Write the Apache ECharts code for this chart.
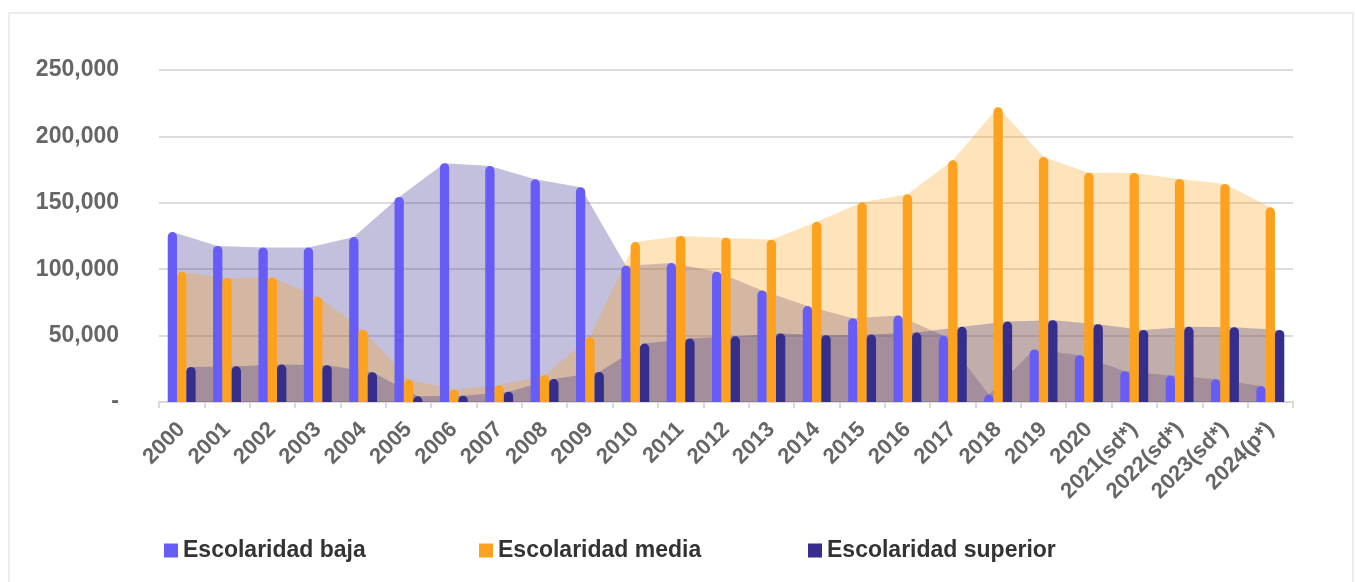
<!doctype html>
<html>
	<head>
		<meta charset="UTF-8">
		<title>Escolaridad</title>
		<style type="text/css">
			body {
				margin: 0;
				background: #ffffff;
			}
			/* 外框 */
			.frame {
				position: absolute;
				left: 8px;
				top: 12px;
				width: 1342px;
				height: 600px;
				border: 2px solid #ececec;
			}
			#main {
				position: absolute;
				left: 0;
				top: 0;
				width: 1355px;
				height: 582px;
			}
		</style>
	</head>
	<body>
		<div class="frame"></div>
		<div id="main"></div>
		<script src="https://cdn.jsdelivr.net/npm/echarts@6/dist/echarts.min.js"></script>
		<script type="text/javascript">
			// 数据
			var years = ['2000','2001','2002','2003','2004','2005','2006','2007','2008','2009','2010','2011','2012',
				'2013','2014','2015','2016','2017','2018','2019','2020','2021(sd*)','2022(sd*)','2023(sd*)','2024(p*)'];
			var baja = [128000,117500,116400,116400,124200,154400,179800,177700,167700,161700,102600,104600,98100,
				84000,72200,63100,65100,49800,5600,39500,35200,23200,19900,17100,12100];
			var media = [98000,93300,93800,79200,54300,16900,9400,12600,20100,49000,120400,125000,123700,
				122200,135700,150400,156400,182000,222000,184500,172700,172500,168000,164200,146600];
			var superior = [26400,26900,28200,27700,22400,4300,4800,7800,17300,22600,44000,47800,49500,
				51600,50300,50800,52300,56600,60600,61600,58600,54300,56600,56300,54300];
			var names = ['Escolaridad baja','Escolaridad media','Escolaridad superior'];
			var colors = ['#675df6','#fca21f','#352e8c'];
			var areaColors = ['rgba(53,45,140,0.3)','rgba(252,162,31,0.3)','rgba(53,45,140,0.3)'];

			var barW = 0.205; // 柱宽占类目宽度的比例
			var font = 'Liberation Sans, Arial, Helvetica, sans-serif';

			// 面积线的点放在各自柱子的中心
			function areaPoints(arr, k){
				var pts = [];
				for(var i=0;i<arr.length;i++){
					pts.push([i + (k-1)*barW, arr[i]]);
				}
				return pts;
			}

			var all = [baja, media, superior];
			var series = [];
			for(var k=0;k<3;k++){
				series.push({
					name: 'area' + k,
					type: 'line',
					xAxisIndex: 1,
					data: areaPoints(all[k], k),
					showSymbol: false,
					symbol: 'none',
					lineStyle: {width: 0},
					areaStyle: {color: areaColors[k], opacity: 1},
					z: 1,
					silent: true
				});
			}
			for(var k=0;k<3;k++){
				series.push({
					name: names[k],
					type: 'bar',
					data: all[k],
					barWidth: (barW*100) + '%',
					barGap: '0%',
					itemStyle: {color: colors[k], borderRadius: [5,5,0,0]},
					z: 3
				});
			}

			function legendAt(left, name){
				return {
					left: left,
					top: 539,
					padding: 0,
					data: [name],
					icon: 'rect',
					itemWidth: 14,
					itemHeight: 14,
					itemGap: 5,
					textStyle: {fontFamily: font, fontWeight: 'bold', fontSize: 23, color: '#333333'}
				};
			}

			var chart = echarts.init(document.getElementById('main'));
			var option = {
				animation: false,
				grid: {left: 159, right: 62, top: 70, bottom: 180},
				legend: [legendAt(164, names[0]), legendAt(479, names[1]), legendAt(808, names[2])],
				xAxis: [{
					type: 'category',
					data: years,
					boundaryGap: true,
					axisLine: {lineStyle: {color: '#d9d9d9', width: 2}},
					axisTick: {show: true, length: 6, lineStyle: {color: '#d9d9d9', width: 2}},
					axisLabel: {
						interval: 0,
						rotate: 45,
						margin: 24,
						fontFamily: font,
						fontWeight: 'bold',
						fontSize: 22,
						color: '#666666'
					}
				}, {
					type: 'value',
					min: -0.5,
					max: years.length - 0.5,
					show: false
				}],
				yAxis: {
					type: 'value',
					min: 0,
					max: 250000,
					interval: 50000,
					axisLine: {show: false},
					axisTick: {show: false},
					splitLine: {lineStyle: {color: '#dcdcdc', width: 2}},
					axisLabel: {
						margin: 40,
						fontFamily: font,
						fontWeight: 'bold',
						fontSize: 23,
						color: '#666666',
						formatter: function(v){
							if(v === 0){ return '-'; }
							return v.toLocaleString('en-US');
						}
					}
				},
				series: series
			};
			chart.setOption(option);
		</script>
	</body>
</html>
